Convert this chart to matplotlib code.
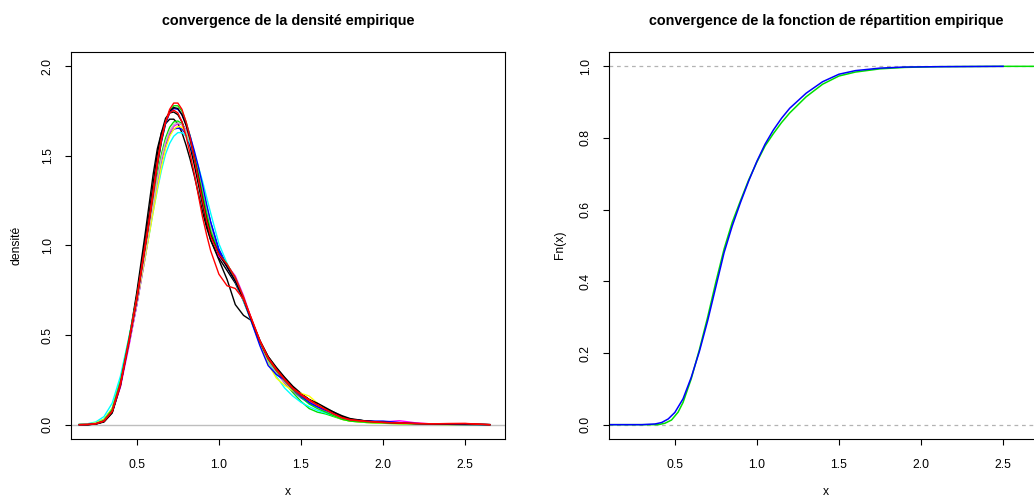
import matplotlib
matplotlib.use("Agg")
import matplotlib.pyplot as plt

plt.rcParams['font.family'] = ['Liberation Sans', 'DejaVu Sans']

# ---------------- data: left panel (density estimates) ----------------
x_grid = [0.15, 0.20, 0.25, 0.30, 0.35, 0.40, 0.45, 0.50,
          0.55, 0.575, 0.60, 0.625, 0.65, 0.675, 0.70, 0.725, 0.75, 0.775,
          0.80, 0.825, 0.85, 0.875, 0.90, 0.925, 0.95,
          1.00, 1.05, 1.10, 1.15, 1.20, 1.25, 1.30, 1.35, 1.40, 1.45, 1.50,
          1.55, 1.60, 1.65, 1.70, 1.75, 1.80,
          1.90, 2.00, 2.10, 2.20, 2.30, 2.40, 2.50, 2.65]

dens_black_a = [0, 0, 0.003, 0.015, 0.065, 0.215, 0.46, 0.74,
                1.06, 1.23, 1.40, 1.54, 1.63, 1.68, 1.705, 1.705, 1.68, 1.63,
                1.56, 1.48, 1.39, 1.29, 1.19, 1.10, 1.03,
                0.93, 0.86, 0.79, 0.69, 0.575, 0.465, 0.38, 0.315, 0.26, 0.21, 0.17,
                0.14, 0.115, 0.09, 0.065, 0.045, 0.03,
                0.02, 0.014, 0.01, 0.006, 0.004, 0.003, 0.002, 0.0]
dens_black_b = [0, 0, 0.004, 0.018, 0.07, 0.22, 0.46, 0.72,
                1.02, 1.18, 1.35, 1.51, 1.63, 1.71, 1.74, 1.745, 1.73, 1.69,
                1.63, 1.55, 1.45, 1.34, 1.23, 1.12, 1.03,
                0.92, 0.81, 0.67, 0.61, 0.58, 0.47, 0.38, 0.32, 0.265, 0.215, 0.175,
                0.14, 0.115, 0.09, 0.07, 0.05, 0.034,
                0.02, 0.012, 0.008, 0.005, 0.004, 0.003, 0.002, 0.0]
dens_black_c = [0, 0, 0.004, 0.018, 0.07, 0.22, 0.45, 0.70,
                0.99, 1.14, 1.30, 1.46, 1.59, 1.69, 1.75, 1.77, 1.765, 1.73,
                1.67, 1.59, 1.49, 1.38, 1.26, 1.15, 1.06,
                0.95, 0.88, 0.80, 0.70, 0.58, 0.465, 0.37, 0.31, 0.26, 0.205, 0.17,
                0.14, 0.12, 0.095, 0.07, 0.045, 0.03,
                0.02, 0.013, 0.009, 0.006, 0.004, 0.004, 0.004, 0.0]
dens_green_low = [0.001, 0.003, 0.01, 0.03, 0.09, 0.245, 0.47, 0.70,
                  0.97, 1.11, 1.25, 1.39, 1.51, 1.60, 1.66, 1.69, 1.695, 1.68,
                  1.64, 1.57, 1.49, 1.40, 1.30, 1.20, 1.11,
                  0.97, 0.89, 0.81, 0.70, 0.575, 0.455, 0.36, 0.29, 0.235, 0.18, 0.13,
                  0.09, 0.07, 0.06, 0.045, 0.03, 0.02,
                  0.012, 0.008, 0.005, 0.003, 0.002, 0.001, 0.0, 0.0]
dens_blue_low = [0, 0.002, 0.007, 0.025, 0.08, 0.225, 0.44, 0.67,
                 0.93, 1.07, 1.21, 1.35, 1.47, 1.56, 1.62, 1.65, 1.655, 1.65,
                 1.62, 1.56, 1.49, 1.41, 1.32, 1.22, 1.13,
                 0.98, 0.89, 0.81, 0.70, 0.58, 0.46, 0.36, 0.29, 0.24, 0.19, 0.15,
                 0.12, 0.10, 0.08, 0.06, 0.04, 0.027,
                 0.018, 0.014, 0.01, 0.006, 0.004, 0.002, 0.001, 0.0]
dens_cyan = [0.002, 0.005, 0.015, 0.045, 0.12, 0.27, 0.48, 0.70,
             0.94, 1.06, 1.19, 1.31, 1.42, 1.51, 1.57, 1.61, 1.63, 1.63,
             1.61, 1.57, 1.51, 1.44, 1.36, 1.27, 1.18,
             1.01, 0.90, 0.80, 0.69, 0.57, 0.45, 0.35, 0.27, 0.205, 0.16, 0.125,
             0.10, 0.08, 0.065, 0.05, 0.035, 0.025,
             0.015, 0.01, 0.007, 0.004, 0.003, 0.002, 0.001, 0.0]
dens_magenta = [0, 0.002, 0.006, 0.022, 0.075, 0.21, 0.43, 0.67,
                0.94, 1.08, 1.22, 1.36, 1.48, 1.57, 1.63, 1.665, 1.68, 1.675,
                1.645, 1.585, 1.50, 1.39, 1.27, 1.16, 1.07,
                0.94, 0.89, 0.83, 0.72, 0.585, 0.46, 0.36, 0.29, 0.235, 0.19, 0.155,
                0.125, 0.10, 0.075, 0.055, 0.035, 0.022,
                0.015, 0.015, 0.022, 0.01, 0.004, 0.002, 0.001, 0.0]
dens_yellow = [0.001, 0.003, 0.01, 0.03, 0.09, 0.235, 0.45, 0.68,
               0.93, 1.06, 1.19, 1.32, 1.44, 1.54, 1.61, 1.65, 1.665, 1.66,
               1.63, 1.58, 1.51, 1.42, 1.32, 1.21, 1.11,
               0.96, 0.89, 0.81, 0.70, 0.575, 0.45, 0.34, 0.26, 0.22, 0.19, 0.175,
               0.16, 0.12, 0.08, 0.05, 0.03, 0.02,
               0.012, 0.008, 0.005, 0.003, 0.002, 0.001, 0.0, 0.0]
dens_gray = [0, 0.002, 0.007, 0.025, 0.08, 0.225, 0.445, 0.68,
             0.95, 1.09, 1.23, 1.37, 1.49, 1.58, 1.64, 1.675, 1.685, 1.675,
             1.64, 1.58, 1.50, 1.41, 1.31, 1.21, 1.11,
             0.96, 0.88, 0.80, 0.70, 0.58, 0.46, 0.36, 0.29, 0.24, 0.195, 0.16,
             0.13, 0.105, 0.08, 0.055, 0.035, 0.024,
             0.016, 0.012, 0.008, 0.005, 0.003, 0.002, 0.001, 0.0]
dens_green_high = [0, 0.001, 0.006, 0.025, 0.085, 0.24, 0.47, 0.71,
                   0.99, 1.13, 1.29, 1.44, 1.58, 1.68, 1.75, 1.78, 1.78, 1.75,
                   1.69, 1.61, 1.51, 1.40, 1.29, 1.18, 1.08,
                   0.96, 0.895, 0.82, 0.71, 0.58, 0.46, 0.365, 0.30, 0.245, 0.195, 0.155,
                   0.115, 0.09, 0.07, 0.05, 0.03, 0.02,
                   0.013, 0.01, 0.007, 0.005, 0.003, 0.002, 0.001, 0.0]
dens_blue_high = [0, 0.001, 0.005, 0.02, 0.075, 0.225, 0.455, 0.70,
                  0.99, 1.14, 1.30, 1.45, 1.58, 1.68, 1.74, 1.765, 1.76, 1.73,
                  1.68, 1.61, 1.53, 1.44, 1.34, 1.23, 1.13,
                  0.97, 0.88, 0.80, 0.70, 0.57, 0.44, 0.33, 0.28, 0.25, 0.20, 0.16,
                  0.125, 0.10, 0.08, 0.06, 0.04, 0.028,
                  0.02, 0.02, 0.012, 0.006, 0.004, 0.002, 0.001, 0.0]
dens_red_dip = [0, 0.001, 0.005, 0.02, 0.075, 0.225, 0.46, 0.71,
                1.0, 1.15, 1.31, 1.47, 1.60, 1.69, 1.74, 1.755, 1.74, 1.69,
                1.61, 1.51, 1.40, 1.28, 1.16, 1.06, 0.97,
                0.84, 0.775, 0.76, 0.70, 0.59, 0.47, 0.375, 0.31, 0.255, 0.205, 0.17,
                0.14, 0.11, 0.085, 0.06, 0.04, 0.028,
                0.018, 0.012, 0.01, 0.007, 0.005, 0.006, 0.006, 0.0]
dens_red_main = [0.0, 0.001, 0.005, 0.020, 0.075, 0.225, 0.455, 0.700,
                 0.985, 1.13, 1.29, 1.45, 1.59, 1.69, 1.76, 1.795, 1.795, 1.76,
                 1.69, 1.60, 1.49, 1.37, 1.25, 1.14, 1.05,
                 0.95, 0.895, 0.82, 0.71, 0.585, 0.465, 0.37, 0.305, 0.25, 0.20, 0.165,
                 0.135, 0.11, 0.085, 0.06, 0.038, 0.026,
                 0.018, 0.013, 0.009, 0.006, 0.005, 0.006, 0.007, 0.0]

density_series = [
    (dens_black_a, "black"), (dens_black_b, "black"),
    (dens_green_low, "#00E000"), (dens_blue_low, "blue"),
    (dens_cyan, "cyan"), (dens_magenta, "magenta"),
    (dens_yellow, "yellow"), (dens_gray, "#BEBEBE"),
    (dens_green_high, "#00E000"), (dens_blue_high, "blue"),
    (dens_black_c, "black"), (dens_red_dip, "red"), (dens_red_main, "red"),
]

# ---------------- data: right panel (empirical CDFs) ----------------
ecdf_green_x = [0.10, 0.40, 0.44, 0.48, 0.52, 0.55, 0.60, 0.65, 0.70, 0.75,
                0.80, 0.85, 0.90, 0.95, 1.00, 1.05, 1.10, 1.15, 1.20, 1.30,
                1.40, 1.50, 1.60, 1.75, 1.90, 2.10, 2.50, 2.80]
ecdf_green_y = [0.0, 0.0, 0.004, 0.013, 0.035, 0.062, 0.128, 0.21, 0.30, 0.398,
                0.49, 0.565, 0.625, 0.683, 0.733, 0.778, 0.812, 0.843, 0.87, 0.915,
                0.95, 0.973, 0.984, 0.993, 0.997, 0.999, 1.0, 1.0]
ecdf_blue_x = [0.10, 0.30, 0.38, 0.42, 0.46, 0.50, 0.55, 0.60, 0.65, 0.70,
               0.75, 0.80, 0.85, 0.90, 0.95, 1.00, 1.05, 1.10, 1.15, 1.20,
               1.30, 1.40, 1.50, 1.60, 1.75, 1.90, 2.10, 2.50]
ecdf_blue_y = [0.0, 0.0, 0.002, 0.006, 0.016, 0.034, 0.072, 0.132, 0.205, 0.29,
               0.385, 0.48, 0.555, 0.62, 0.68, 0.735, 0.783, 0.822, 0.855, 0.883,
               0.925, 0.957, 0.978, 0.988, 0.995, 0.998, 0.999, 1.0]

x_ticks = [0.5, 1.0, 1.5, 2.0, 2.5]
dens_yticks = [0.0, 0.5, 1.0, 1.5, 2.0]
cdf_yticks = [0.0, 0.2, 0.4, 0.6, 0.8, 1.0]

# ---------------- figure ----------------
W, H = 1034, 499
fig = plt.figure(figsize=(W / 100, H / 100), dpi=100)

def px_axes(x0, x1, y0, y1):
    return fig.add_axes([x0 / W, 1 - y1 / H, (x1 - x0) / W, (y1 - y0) / H])

ax1 = px_axes(71, 505, 52, 439)
ax2 = px_axes(609, 1043, 52, 439)

FS = 8.7
XLIM = (0.099, 2.743)

for ax in (ax1, ax2):
    ax.set_xlim(*XLIM)
    for s in ax.spines.values():
        s.set_linewidth(0.8)
        s.set_color("black")
    ax.tick_params(direction="out", length=4.3, width=0.8, labelsize=FS, pad=8)
    ax.tick_params(axis="x", pad=10)
    ax.tick_params(axis="y", labelrotation=90)
    ax.set_xticks(x_ticks)
    ax.set_xticklabels([f"{v:.1f}" for v in x_ticks])

# left: densities
ax1.set_ylim(-0.08, 2.08)
ax1.axhline(0, color="#BEBEBE", lw=1.0, zorder=0)
for ys, col in density_series:
    ax1.plot(x_grid, ys, color=col, lw=1.0)
ax1.set_yticks(dens_yticks)
ax1.set_yticklabels([f"{v:.1f}" for v in dens_yticks], va="center")

# right: ECDFs
ax2.set_ylim(-0.04, 1.04)
for yv in (0.0, 1.0):
    ax2.axhline(yv, color="#B3B3B3", lw=0.9, dashes=(3, 3), zorder=0)
ax2.plot(ecdf_green_x, ecdf_green_y, color="#00E000", lw=1.1)
ax2.plot(ecdf_blue_x, ecdf_blue_y, color="blue", lw=1.1)
ax2.set_yticks(cdf_yticks)
ax2.set_yticklabels([f"{v:.1f}" for v in cdf_yticks], va="center")

# titles and labels
fig.text(288 / W, 1 - 21 / H, "convergence de la densité empirique",
         ha="center", va="center", fontsize=10.4, fontweight="bold")
fig.text(826 / W, 1 - 21 / H, "convergence de la fonction de répartition empirique",
         ha="center", va="center", fontsize=10.4, fontweight="bold")
fig.text(288 / W, 1 - 492 / H, "x", ha="center", va="center", fontsize=FS)
fig.text(826 / W, 1 - 492 / H, "x", ha="center", va="center", fontsize=FS)
fig.text(17 / W, 1 - 245 / H, "densité", ha="center", va="center",
         rotation=90, fontsize=FS)
fig.text(560 / W, 1 - 245 / H, "Fn(x)", ha="center", va="center",
         rotation=90, fontsize=FS)

fig.savefig("out.png", dpi=100)
